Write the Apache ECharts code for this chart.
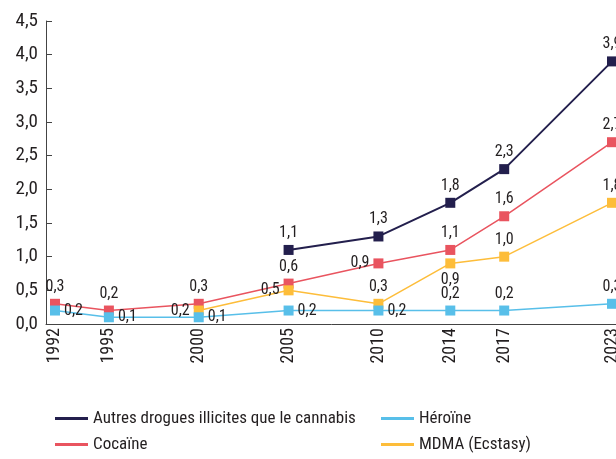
<!DOCTYPE html>
<html>
<head>
<meta charset="utf-8">
<script src="https://cdn.jsdelivr.net/npm/echarts@6/dist/echarts.min.js"></script>
<style>
  html, body { margin: 0; padding: 0; background: #fff; }
  #chart { width: 616px; height: 459px; }
</style>
</head>
<body>
<div id="chart"></div>
<script>
const chart = echarts.init(document.getElementById('chart'));

// axe des années (une catégorie par an)
const firstYear = 1992;
const lastYear = 2023;
const labelYears = ['1992', '1995', '2000', '2005', '2010', '2014', '2017', '2023'];

const autresYears = ['2005', '2010', '2014', '2017', '2023'];
const autresValues = [1.1, 1.3, 1.8, 2.3, 3.9];

const cocaineYears = ['1992', '1995', '2000', '2005', '2010', '2014', '2017', '2023'];
const cocaineValues = [0.3, 0.2, 0.3, 0.6, 0.9, 1.1, 1.6, 2.7];

const heroineYears = ['1992', '1995', '2000', '2005', '2010', '2014', '2017', '2023'];
const heroineValues = [0.2, 0.1, 0.1, 0.2, 0.2, 0.2, 0.2, 0.3];

const mdmaYears = ['2000', '2005', '2010', '2014', '2017', '2023'];
const mdmaValues = [0.2, 0.5, 0.3, 0.9, 1.0, 1.8];

const years = [];
for (let y = firstYear; y <= lastYear; y++) years.push(String(y));

// position des étiquettes
const autresPos = ['top', 'top', 'top', 'top', 'top'];
const cocainePos = ['top', 'top', 'top', 'top', 'left', 'top', 'top', 'top'];
const heroinePos = ['right', 'right', 'right', 'right', 'right', 'top', 'top', 'top'];
const mdmaPos = ['left', 'left', 'top', 'bottom', 'top', 'top'];

// police étroite (Roboto variable, largeur réduite)
const font = "Roboto, sans-serif";
const stretch = 'condensed';
const txt = '#231f20';

function fmt(v) {
  return v.toFixed(1).replace('.', ',');
}

function makeSeries(name, color, yrs, vals, pos, width) {
  return {
    name: name,
    type: 'line',
    data: yrs.map((y, i) => ({
      value: [y, vals[i]],
      label: { position: pos[i] }
    })),
    symbol: 'rect',
    symbolSize: 10,
    lineStyle: { color: color, width: width },
    itemStyle: { color: color },
    label: {
      show: true,
      distance: 4,
      color: txt,
      fontFamily: font,
      fontStyle: stretch,
      fontSize: 16,
      formatter: p => fmt(p.value[1])
    },
    animation: false
  };
}

const legendBase = {
  orient: 'vertical',
  top: 410,
  padding: 0,
  itemWidth: 33,
  itemHeight: 3,
  itemGap: 9,
  icon: 'rect',
  textStyle: { color: txt, fontFamily: font, fontStyle: stretch, fontSize: 17 }
};

const option = {
  grid: { left: 46, top: 21, right: -5, bottom: 135, outerBoundsMode: 'none' },
  xAxis: {
    type: 'category',
    data: years,
    boundaryGap: true,
    axisLine: { lineStyle: { color: '#444', width: 1 } },
    axisTick: { inside: true, length: 6, lineStyle: { color: '#444' } },
    axisLabel: {
      rotate: 90,
      margin: 4,
      color: txt,
      fontFamily: font,
      fontStyle: stretch,
      fontSize: 18,
      interval: (i, v) => labelYears.includes(v)
    }
  },
  yAxis: {
    type: 'value',
    min: 0,
    max: 4.5,
    interval: 0.5,
    splitLine: { show: false },
    axisLine: { show: true, lineStyle: { color: '#444', width: 1 } },
    axisTick: { show: true, inside: true, length: 6, lineStyle: { color: '#444' } },
    axisLabel: {
      margin: 8,
      color: txt,
      fontFamily: font,
      fontStyle: stretch,
      fontSize: 19,
      formatter: fmt
    }
  },
  legend: [
    Object.assign({}, legendBase, {
      left: 55,
      data: ['Autres drogues illicites que le cannabis', 'Cocaïne']
    }),
    Object.assign({}, legendBase, {
      left: 381,
      data: ['Héroïne', 'MDMA (Ecstasy)']
    })
  ],
  series: [
    makeSeries('Autres drogues illicites que le cannabis', '#231f4d', autresYears, autresValues, autresPos, 2),
    makeSeries('Cocaïne', '#e9545f', cocaineYears, cocaineValues, cocainePos, 1.5),
    makeSeries('MDMA (Ecstasy)', '#fdbd3a', mdmaYears, mdmaValues, mdmaPos, 1.5),
    makeSeries('Héroïne', '#58bfe9', heroineYears, heroineValues, heroinePos, 1.5)
  ]
};

chart.setOption(option);
</script>
</body>
</html>
